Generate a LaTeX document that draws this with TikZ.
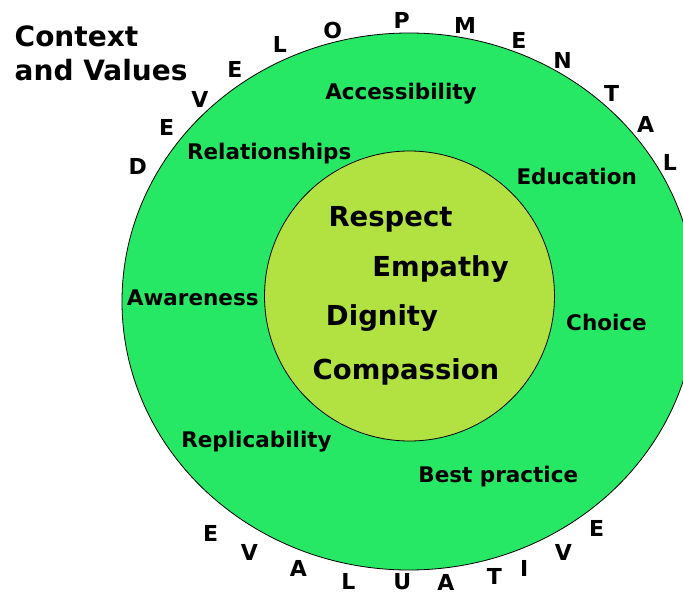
\documentclass[tikz,border=0pt]{standalone}
\usepackage{fontspec}
\setmainfont{DejaVu Sans}
\usetikzlibrary{shapes.geometric}
\definecolor{ringgreen}{RGB}{38,232,101}
\definecolor{coregreen}{RGB}{178,226,65}
\tikzset{
  ring/.style={ellipse, draw=black, line width=0.8pt, fill=ringgreen, inner sep=0pt},
  core/.style={circle, draw=black, line width=0.8pt, fill=coregreen, inner sep=0pt},
  value/.style={anchor=base, inner sep=0pt, font=\bfseries\fontsize{27.5}{33}\selectfont},
  label/.style={anchor=base, inner sep=0pt, font=\bfseries\fontsize{21.5}{26}\selectfont},
  arcletter/.style={anchor=center, inner sep=0pt, font=\bfseries\fontsize{22}{26}\selectfont},
  title/.style={anchor=base west, inner sep=0pt, font=\bfseries\fontsize{28}{33}\selectfont}
}
\begin{document}
\begin{tikzpicture}[x=1pt,y=-1pt]
\useasboundingbox (0,0) rectangle (683,596);
\clip (0,0) rectangle (683,596);
\node[ring, minimum width=574pt, minimum height=537pt] (outer) at (409,301.5) {};
\node[core, minimum size=290pt] (inner) at (409.5,296) {};
% title
\node[title] (ctxa) at (14.5,46.7) {Context};
\node[title] (ctxb) at (14.5,81) {and Values};
% core values
\node[value] (respect) at (390.5,227) {Respect};
\node[value] (empathy) at (440.5,276.7) {Empathy};
\node[value] (dignity) at (382,325.7) {Dignity};
\node[value] (compassion) at (406,379.3) {Compassion};
% ring labels
\node[label] (access) at (401,100) {Accessibility};
\node[label] (relat) at (269.2,159.3) {Relationships};
\node[label] (educ) at (576.7,184.3) {Education};
\node[label] (aware) at (192.8,305.5) {Awareness};
\node[label] (choice) at (606.5,330.5) {Choice};
\node[label] (replic) at (256.5,447.3) {Replicability};
\node[label] (best) at (498.3,482.7) {Best practice};
% DEVELOPMENTAL
\node[arcletter] (d1) at (137.7,166.7) {D};
\node[arcletter] (d2) at (166.7,127.3) {E};
\node[arcletter] (d3) at (200,99) {V};
\node[arcletter] (d4) at (235,69.3) {E};
\node[arcletter] (d5) at (280,44.3) {L};
\node[arcletter] (d6) at (332.7,30.7) {O};
\node[arcletter] (d7) at (401.7,20.7) {P};
\node[arcletter] (d8) at (465,25) {M};
\node[arcletter] (d9) at (519,40.7) {E};
\node[arcletter] (d10) at (562.7,60) {N};
\node[arcletter] (d11) at (611.7,93.3) {T};
\node[arcletter] (d12) at (645.7,124.3) {A};
\node[arcletter] (d13) at (670,162.3) {L};
% EVALUATIVE
\node[arcletter] (e1) at (210.7,533.3) {E};
\node[arcletter] (e2) at (249.3,552.3) {V};
\node[arcletter] (e3) at (298.3,568.3) {A};
\node[arcletter] (e4) at (348.3,581.5) {L};
\node[arcletter] (e5) at (402.3,582) {U};
\node[arcletter] (e6) at (446,582) {A};
\node[arcletter] (e7) at (494.3,576.7) {T};
\node[arcletter] (e8) at (524.3,568.3) {I};
\node[arcletter] (e9) at (563.3,552.3) {V};
\node[arcletter] (e10) at (596.7,528.3) {E};
\end{tikzpicture}
\end{document}
